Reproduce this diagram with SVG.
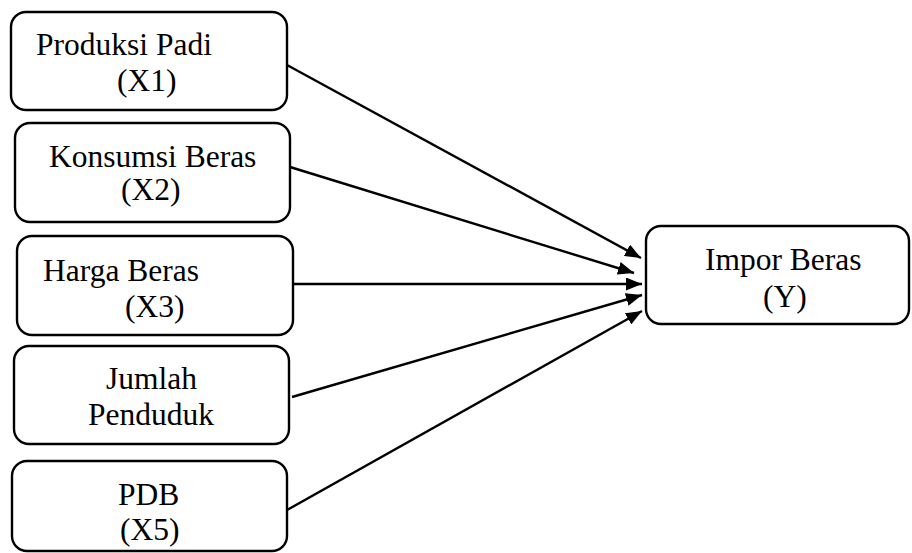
<svg xmlns="http://www.w3.org/2000/svg" width="912" height="553" viewBox="0 0 912 553">
<style>
.box{fill:#fff;stroke:#000;stroke-width:2.4}
.t{font-family:"Liberation Serif","Times New Roman",serif;font-size:31.5px;fill:#000}
.c{stroke:#000;stroke-width:2.4;fill:none;marker-end:url(#ah)}
</style>
<defs>
<marker id="ah" viewBox="0 0 16 13" refX="16" refY="6.5" markerWidth="16" markerHeight="13" markerUnits="userSpaceOnUse" orient="auto">
<path d="M0,0 L16,6.5 L0,13 Z" fill="#000"/>
</marker>
</defs>
<rect width="912" height="553" fill="#fff"/>
<g id="connectors">
<line class="c" x1="287" y1="65" x2="641" y2="258"/>
<line class="c" x1="290" y1="167" x2="634" y2="273"/>
<line class="c" x1="293" y1="284" x2="642" y2="284"/>
<line class="c" x1="292" y1="397" x2="642" y2="295"/>
<line class="c" x1="287" y1="510" x2="642" y2="311"/>
</g>
<g id="x1">
<rect class="box" x="11" y="12" width="276" height="98" rx="15"/>
<text class="t" x="36" y="55">Produksi Padi</text>
<text class="t" x="117" y="91">(X1)</text>
</g>
<g id="x2">
<rect class="box" x="15" y="123" width="275" height="99" rx="15"/>
<text class="t" x="49" y="167">Konsumsi Beras</text>
<text class="t" x="121" y="200">(X2)</text>
</g>
<g id="x3">
<rect class="box" x="17" y="236" width="276" height="99" rx="15"/>
<text class="t" x="43" y="281">Harga Beras</text>
<text class="t" x="125" y="317">(X3)</text>
</g>
<g id="x4">
<rect class="box" x="14" y="346" width="275" height="98" rx="15"/>
<text class="t" x="106" y="389">Jumlah</text>
<text class="t" x="88" y="425">Penduduk</text>
</g>
<g id="x5">
<rect class="box" x="12" y="461" width="275" height="90" rx="15"/>
<text class="t" x="118" y="505">PDB</text>
<text class="t" x="120" y="540">(X5)</text>
</g>
<g id="y">
<rect class="box" x="646" y="226" width="263" height="98" rx="15"/>
<text class="t" x="705" y="270">Impor Beras</text>
<text class="t" x="763" y="307">(Y)</text>
</g>
</svg>
